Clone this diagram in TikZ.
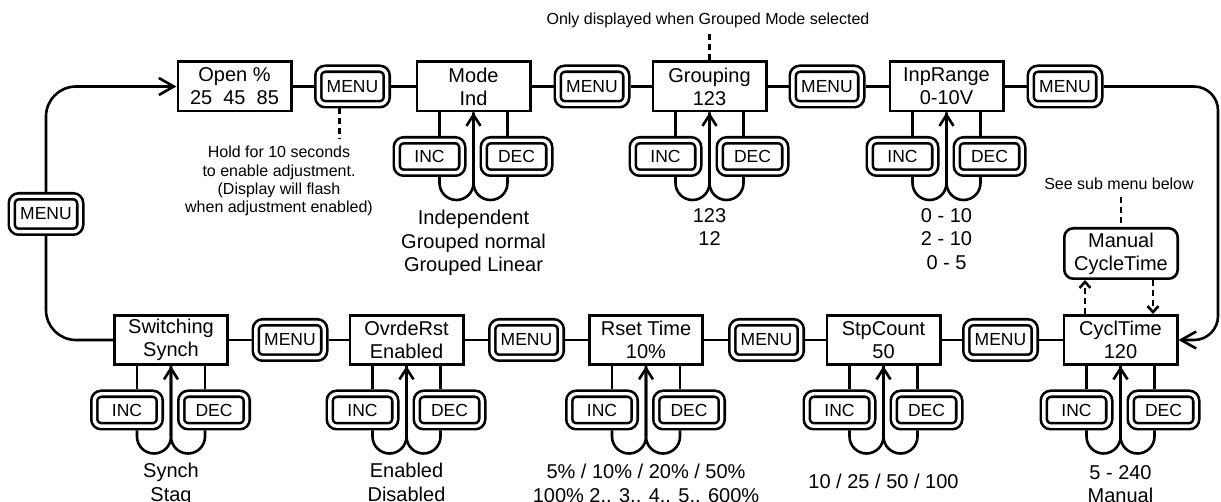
\documentclass[tikz,border=0pt]{standalone}
\usepackage{fontspec}
\setmainfont{Liberation Sans}
\usetikzlibrary{arrows.meta,calc}

\tikzset{
  conn/.style={line width=2.6pt},
  dispbox/.style={draw, line width=2.6pt, minimum width=113.4pt, minimum height=49.4pt,
    inner sep=0pt, align=center, font=\fontsize{20}{23}\selectfont},
  btn/.style={draw, line width=2.6pt, double=white, double distance=3.4pt,
    rounded corners=7pt, minimum width=65.4pt, minimum height=32.4pt,
    inner sep=0pt, outer sep=4.3pt, font=\fontsize{17.5}{20}\selectfont},
  menubtn/.style={btn, minimum width=68.4pt, minimum height=35.4pt},
  note/.style={align=center, inner sep=0pt, font=\fontsize{16}{18.3}\selectfont},
  vals/.style={align=center, inner sep=0pt, anchor=north, font=\fontsize{20}{23.5}\selectfont},
  bigtip/.style={-{Straight Barb[length=15pt,width=17pt]}},
  midtip/.style={-{Straight Barb[length=11pt,width=14pt]}},
  smalltip/.style={-{Straight Barb[length=6pt,width=11pt]}},
  dashline/.style={line width=2.6pt, dash pattern=on 6pt off 4pt},
}

\newcommand{\setting}[6]{%
  \node[dispbox] (#1) at (#2,#3) {#4};
  \node[btn] (#1inc) at ($(#1)+(-44,70)$) {INC};
  \node[btn] (#1dec) at ($(#1)+(43,70)$) {DEC};
  \coordinate (#1l) at ([xshift=-34pt]#1.south);
  \coordinate (#1r) at ([xshift=34pt]#1.south);
  \draw[conn] (#1l) -- (#1l |- #1inc.north);
  \draw[conn] (#1r) -- (#1r |- #1dec.north);
  \draw[conn, rounded corners=17pt] (#1r |- #1dec.south) -- ++(0,23) -| (#1.south);
  \draw[conn, midtip, rounded corners=17pt] (#1l |- #1inc.south) -- ++(0,23) -| (#1.south);
  \node[vals] (#1val) at ($(#1)+(0,#6)$) {#5};
}

\begin{document}
\begin{tikzpicture}[x=1pt, y=-1pt]
\useasboundingbox (0,0) rectangle (1221,502);

% ---------- top row ----------
\node[dispbox] (open) at (234.5,86.5) {Open \%\\25\ \ 45\ \ 85};
\node[menubtn] (m1) at (352.5,86.5) {MENU};
\setting{mode}{473.5}{86.5}{Mode\\Ind}{Independent\\Grouped normal\\Grouped Linear}{123.5}
\node[menubtn] (m2) at (592,86.5) {MENU};
\setting{grp}{709.5}{86.5}{Grouping\\123}{123\\12}{121.5}
\node[menubtn] (m3) at (827,86.5) {MENU};
\setting{inp}{946.5}{86.5}{InpRange\\0-10V}{0 - 10\\2 - 10\\0 - 5}{121.5}
\node[menubtn] (m4) at (1065,86.5) {MENU};

\draw[conn] (open.east) -- (m1.west) (m1.east) -- (mode.west)
  (mode.east) -- (m2.west) (m2.east) -- (grp.west)
  (grp.east) -- (m3.west) (m3.east) -- (inp.west)
  (inp.east) -- (m4.west);

% ---------- bottom row ----------
\setting{sw}{171}{340}{Switching\\Synch}{Synch\\Stag}{123}
\node[menubtn] (b1) at (290,340) {MENU};
\setting{ovr}{406.5}{340}{OvrdeRst\\Enabled}{Enabled\\Disabled}{123}
\node[menubtn] (b2) at (526.5,340) {MENU};
\setting{rst}{646}{340}{Rset Time\\10\%}{5\% / 10\% / 20\% / 50\%\\100\% 2.. 3.. 4.. 5.. 600\%}{124}
\node[menubtn] (b3) at (766.5,340) {MENU};
\setting{stp}{883.5}{340}{StpCount\\50}{10 / 25 / 50 / 100}{134}
\node[menubtn] (b4) at (1000.5,340) {MENU};
\setting{cyc}{1120.5}{340}{CyclTime\\120}{5 - 240\\Manual}{125}

\draw[conn] (cyc.west) -- (b4.east) (b4.west) -- (stp.east)
  (stp.west) -- (b3.east) (b3.west) -- (rst.east)
  (rst.west) -- (b2.east) (b2.west) -- (ovr.east)
  (ovr.west) -- (b1.east) (b1.west) -- (sw.east);

% ---------- left loop ----------
\node[menubtn] (mL) at (46,214) {MENU};
\draw[conn, bigtip, rounded corners=30pt] (mL.north) -- (mL.north |- open.west) -- (open.west);
\draw[conn, rounded corners=30pt] (sw.west) -- (sw.west -| mL.south) -- (mL.south);

% ---------- right loop ----------
\coordinate (rc) at (1218,86.5);
\draw[conn, bigtip, rounded corners=24pt] (m4.east) -- (rc) -- (rc |- cyc.east) -- (cyc.east);

% ---------- notes ----------
\node[note, anchor=base] (onlytxt) at (708,25) {Only displayed when Grouped Mode selected};
\coordinate (od) at ([yshift=-5pt]onlytxt.south);
\draw[dashline] (od -| grp.north) -- (grp.north);

\node[note, anchor=north] (holdtxt) at (279,146) {Hold for 10 seconds\\to enable adjustment.\\(Display will flash\\when adjustment enabled)};
\coordinate (hs) at ([xshift=-13pt]m1.south);
\coordinate (hd) at ([yshift=7pt]holdtxt.north);
\draw[dashline] (hs) -- (hs |- hd);

\node[note, anchor=base] (seetxt) at (1119,190) {See sub menu below};
\node[dispbox, rounded corners=9pt, minimum height=50.4pt] (man) at (1121,253.5) {Manual\\CycleTime};
\coordinate (sd) at ([yshift=-7pt]seetxt.south);
\draw[dashline] (sd -| man.north) -- (man.north);

\coordinate (ca) at ([xshift=-35.5pt]cyc.north);
\coordinate (cb) at ([xshift=32.5pt]cyc.north);
\draw[dashline, smalltip] (ca) -- (ca |- man.south);
\draw[dashline, smalltip] (cb |- man.south) -- (cb);
\end{tikzpicture}
\end{document}
